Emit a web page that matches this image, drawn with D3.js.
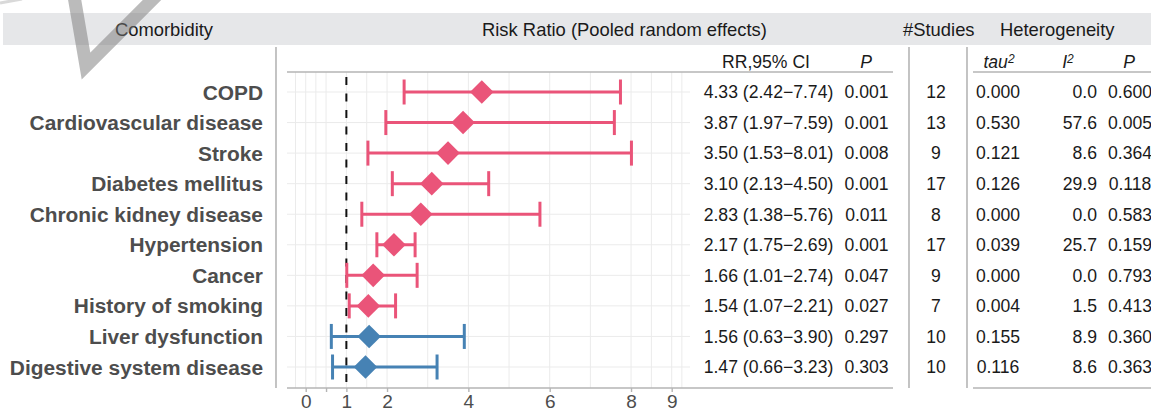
<!DOCTYPE html>
<html>
<head>
<meta charset="utf-8">
<script src="https://cdn.jsdelivr.net/npm/d3@7"></script>
<style>
  body { margin: 0; background: #fff; }
  svg text { font-family: "Liberation Sans", Arial, sans-serif; }
</style>
</head>
<body>
<div id="chart"></div>
<script>
// values
const comorbidity = ['COPD', 'Cardiovascular disease', 'Stroke', 'Diabetes mellitus',
  'Chronic kidney disease', 'Hypertension', 'Cancer', 'History of smoking',
  'Liver dysfunction', 'Digestive system disease']
const rr = [4.33, 3.87, 3.50, 3.10, 2.83, 2.17, 1.66, 1.54, 1.56, 1.47]
const ciLow = [2.42, 1.97, 1.53, 2.13, 1.38, 1.75, 1.01, 1.07, 0.63, 0.66]
const ciHigh = [7.74, 7.59, 8.01, 4.50, 5.76, 2.69, 2.74, 2.21, 3.90, 3.23]
const pValue = ['0.001', '0.001', '0.008', '0.001', '0.011', '0.001', '0.047', '0.027', '0.297', '0.303']
const nStudies = [12, 13, 9, 17, 8, 17, 9, 7, 10, 10]
const tau2 = ['0.000', '0.530', '0.121', '0.126', '0.000', '0.039', '0.000', '0.004', '0.155', '0.116']
const iSq = ['0.0', '57.6', '8.6', '29.9', '0.0', '25.7', '0.0', '1.5', '8.9', '8.6']
const pHet = ['0.600', '0.005', '0.364', '0.118', '0.583', '0.159', '0.793', '0.413', '0.360', '0.363']

const tickValues = [0, 0.5, 1, 2, 4, 6, 8, 9]
const tickLabels = ['0', '', '1', '2', '4', '6', '8', '9']
const gridValues = [-0.25, 0, 0.25, 0.5, 1, 1.5, 2, 3, 4, 5, 6, 7, 8, 8.5, 9, 9.25]

const W = 1151, H = 412
const pink = '#ea5479', blue = '#4682b4'
const txt = '#1a1a1a', lab = '#4d4d4d', rule = '#b5b5b5'
const valSize = '17.6px'

const rows = comorbidity.map((name, i) => ({
  name, rr: rr[i], lo: ciLow[i], hi: ciHigh[i], p: pValue[i],
  n: nStudies[i], tau2: tau2[i], i2: iSq[i], ph: pHet[i]
}))

const svg = d3.select('#chart').append('svg')
  .attr('width', W)
  .attr('height', H)

const x = d3.scaleLinear().domain([-0.46, 9.45]).range([287, 690])
const y = d3.scalePoint().domain(comorbidity).range([92, 367])

const plotTop = 72, plotBottom = 388

// header band
svg.append('rect')
  .attr('x', 3).attr('y', 13)
  .attr('width', W - 3).attr('height', 32)
  .attr('fill', '#e6e7e9')

const head = [
  { t: 'Comorbidity', x: 164, a: 'middle' },
  { t: 'Risk Ratio (Pooled random effects)', x: 482, a: 'start' },
  { t: '#Studies', x: 903, a: 'start' },
  { t: 'Heterogeneity', x: 1000, a: 'start' }
]
svg.selectAll('.head')
  .data(head)
  .enter().append('text')
  .attr('class', 'head')
  .attr('x', d => d.x)
  .attr('y', 36)
  .attr('text-anchor', d => d.a)
  .style('font-size', '18.4px')
  .attr('fill', txt)
  .text(d => d.t)

// vertical separators
svg.selectAll('.sep')
  .data([276, 909, 967])
  .enter().append('line')
  .attr('class', 'sep')
  .attr('x1', d => d).attr('x2', d => d)
  .attr('y1', 47).attr('y2', plotBottom)
  .attr('stroke', rule)
  .attr('stroke-width', 1.6)

// grid
svg.selectAll('.vgrid')
  .data(gridValues)
  .enter().append('line')
  .attr('class', 'vgrid')
  .attr('x1', d => x(d)).attr('x2', d => x(d))
  .attr('y1', plotTop).attr('y2', plotBottom)
  .attr('stroke', '#ebebeb')
  .attr('stroke-width', 1)

svg.selectAll('.hgrid')
  .data(rows)
  .enter().append('line')
  .attr('class', 'hgrid')
  .attr('x1', 287).attr('x2', 690)
  .attr('y1', d => y(d.name)).attr('y2', d => y(d.name))
  .attr('stroke', '#ebebeb')
  .attr('stroke-width', 1)

// top and bottom rules of plot + RR columns, and heterogeneity block
const rules = [
  { x1: 287, x2: 893, y: plotTop },
  { x1: 287, x2: 893, y: plotBottom },
  { x1: 973, x2: W, y: plotTop },
  { x1: 973, x2: W, y: plotBottom }
]
svg.selectAll('.rule')
  .data(rules)
  .enter().append('line')
  .attr('class', 'rule')
  .attr('x1', d => d.x1).attr('x2', d => d.x2)
  .attr('y1', d => d.y).attr('y2', d => d.y)
  .attr('stroke', rule)
  .attr('stroke-width', 1.6)

// x axis
const axis = svg.append('g')
  .attr('transform', 'translate(0,' + plotBottom + ')')
  .call(d3.axisBottom(x)
    .tickValues(tickValues)
    .tickFormat((d, i) => tickLabels[i])
    .tickSize(4)
    .tickPadding(3))
axis.select('.domain').remove()
axis.selectAll('.tick line').attr('stroke', rule).attr('stroke-width', 1.4)
axis.selectAll('.tick text')
  .attr('fill', lab)
  .style('font-size', '19px')
  .style('font-family', '"Liberation Sans", Arial, sans-serif')

// reference line at RR = 1
svg.append('line')
  .attr('x1', x(1)).attr('x2', x(1))
  .attr('y1', 77).attr('y2', plotBottom)
  .attr('stroke', '#111')
  .attr('stroke-width', 2)
  .attr('stroke-dasharray', '8,8.5')

// error bars and diamonds
const colourOf = d => d.lo > 1 ? pink : blue
const est = svg.selectAll('.est')
  .data(rows)
  .enter().append('g')
  .attr('class', 'est')
  .attr('transform', d => 'translate(0,' + y(d.name) + ')')

est.append('line')
  .attr('x1', d => x(d.lo)).attr('x2', d => x(d.hi))
  .attr('stroke', colourOf)
  .attr('stroke-width', 3)
est.selectAll('.cap')
  .data(d => [{ v: d.lo, c: colourOf(d) }, { v: d.hi, c: colourOf(d) }])
  .enter().append('line')
  .attr('class', 'cap')
  .attr('x1', d => x(d.v)).attr('x2', d => x(d.v))
  .attr('y1', -12.5).attr('y2', 12.5)
  .attr('stroke', d => d.c)
  .attr('stroke-width', 3)
est.append('path')
  .attr('d', d => {
    const cx = x(d.rr), s = 11.8
    return 'M' + (cx - s) + ',0L' + cx + ',' + (-s) + 'L' + (cx + s) + ',0L' + cx + ',' + s + 'Z'
  })
  .attr('fill', colourOf)

// row labels
svg.selectAll('.rowlab')
  .data(rows)
  .enter().append('text')
  .attr('class', 'rowlab')
  .attr('x', 263)
  .attr('y', d => y(d.name))
  .attr('dy', '0.36em')
  .attr('text-anchor', 'end')
  .style('font-size', '20.9px')
  .style('font-weight', 'bold')
  .attr('fill', lab)
  .text(d => d.name)

// table sub headers
const sub = svg.append('g').style('font-size', valSize).attr('fill', txt)
sub.append('text').attr('x', 766).attr('y', 68).attr('text-anchor', 'middle').text('RR,95% CI')
sub.append('text').attr('x', 866).attr('y', 68).attr('text-anchor', 'middle').style('font-style', 'italic').text('P')
const t2 = sub.append('text').attr('x', 999).attr('y', 68).attr('text-anchor', 'middle').style('font-style', 'italic')
t2.append('tspan').text('tau')
t2.append('tspan').attr('dy', -5).style('font-size', '12px').text('2')
const i2h = sub.append('text').attr('x', 1068).attr('y', 68).attr('text-anchor', 'middle').style('font-style', 'italic')
i2h.append('tspan').text('I')
i2h.append('tspan').attr('dy', -5).style('font-size', '12px').text('2')
sub.append('text').attr('x', 1129).attr('y', 68).attr('text-anchor', 'middle').style('font-style', 'italic').text('P')

// table values
const cols = [
  { f: d => d.rr.toFixed(2) + ' (' + d.lo.toFixed(2) + '\u2212' + d.hi.toFixed(2) + ')', x: 768.5, a: 'middle' },
  { f: d => d.p, x: 866.5, a: 'middle' },
  { f: d => d.n, x: 936, a: 'middle' },
  { f: d => d.tau2, x: 998, a: 'middle' },
  { f: d => d.i2, x: 1097, a: 'end' },
  { f: d => d.ph, x: 1130, a: 'middle' }
]
cols.forEach(c => {
  svg.selectAll(null)
    .data(rows)
    .enter().append('text')
    .attr('x', c.x)
    .attr('y', d => y(d.name))
    .attr('dy', '0.36em')
    .attr('text-anchor', c.a)
    .style('font-size', valSize)
    .attr('fill', txt)
    .text(c.f)
})

// grey mark in the top-left corner
svg.append('polyline')
  .attr('points', '74,-4 86,66 158,-6')
  .attr('fill', 'none')
  .attr('stroke', 'rgba(120,120,120,0.5)')
  .attr('stroke-width', 13)
  .attr('stroke-linejoin', 'miter')
svg.append('line')
  .attr('x1', 0).attr('y1', 3).attr('x2', 22).attr('y2', -1)
  .attr('stroke', 'rgba(160,160,160,0.4)')
  .attr('stroke-width', 3)
</script>
</body>
</html>
